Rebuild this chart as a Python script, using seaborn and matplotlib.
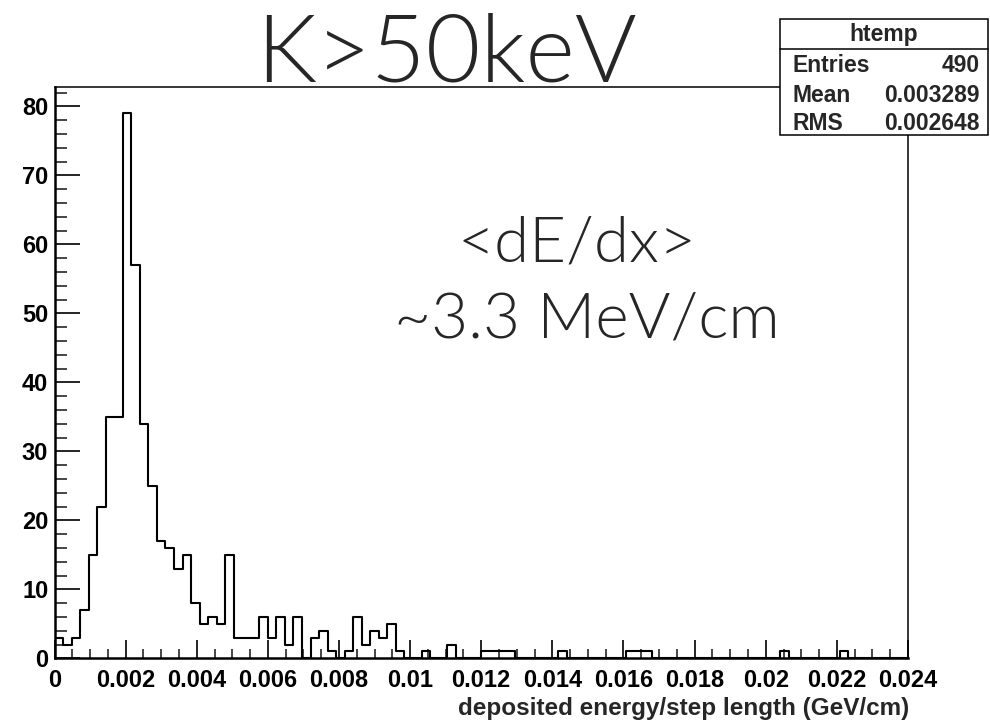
import numpy as np
import pandas as pd
import matplotlib
matplotlib.use("Agg")
import matplotlib.pyplot as plt
import seaborn as sns
from matplotlib.ticker import MultipleLocator, FixedLocator
from matplotlib.patches import Rectangle
from matplotlib.lines import Line2D

# ---------------- data ----------------
bin_lo = 0.0
bin_hi = 0.024
n_bins = 100
counts = [3, 2, 3, 7, 15, 22, 35, 35, 79, 57,
          34, 25, 17, 16, 13, 15, 8, 5, 6, 5,
          15, 3, 3, 3, 6, 3, 6, 2, 6, 0,
          3, 4, 1, 0, 1, 6, 2, 4, 3, 5,
          1, 0, 0, 1, 0, 0, 2, 0, 0, 0,
          1, 1, 1, 1, 0, 0, 0, 0, 0, 1,
          0, 0, 0, 0, 0, 0, 0, 1, 1, 1,
          0, 0, 0, 0, 0, 0, 0, 0, 0, 0,
          0, 0, 0, 0, 0, 1, 0, 0, 0, 0,
          0, 0, 1, 0, 0, 0, 0, 0, 0, 0]
x_tick_values = [0, 0.002, 0.004, 0.006, 0.008, 0.01, 0.012, 0.014,
                 0.016, 0.018, 0.02, 0.022, 0.024]
x_tick_labels = ["0", "0.002", "0.004", "0.006", "0.008", "0.01", "0.012",
                 "0.014", "0.016", "0.018", "0.02", "0.022", "0.024"]
y_tick_values = [0, 10, 20, 30, 40, 50, 60, 70, 80]
title_text = "K>50keV"
note_lines = ["<dE/dx>", "~3.3 MeV/cm"]
xlabel_text = "deposited energy/step length (GeV/cm)"
stats_name = "htemp"
stats_rows = [("Entries", "490"), ("Mean", "0.003289"), ("RMS", "0.002648")]

edges = np.linspace(bin_lo, bin_hi, n_bins + 1)
centers = 0.5 * (edges[:-1] + edges[1:])
df = pd.DataFrame({"x": centers, "w": np.asarray(counts, dtype=float)})

# ---------------- style ----------------
sns.set_theme(style="white")
plt.rcParams["font.family"] = ["Liberation Sans", "DejaVu Sans"]
light_font = ["Lato", "DejaVu Sans"]

fig = plt.figure(figsize=(9.9, 7.2), dpi=100)
ax = fig.add_axes([54.5 / 990, 1 - 658.3 / 720, (908 - 54.5) / 990, (658.3 - 87) / 720])

sns.histplot(data=df, x="x", weights="w", bins=list(edges), element="step",
             fill=False, color="black", linewidth=1.5, ax=ax)

ax.set_xlim(bin_lo, bin_hi)
ax.set_ylim(0, 82.8)
ax.set_xlabel("")
ax.set_ylabel("")

ax.xaxis.set_major_locator(FixedLocator(x_tick_values))
ax.set_xticklabels(x_tick_labels)
ax.xaxis.set_minor_locator(MultipleLocator(0.0005))
ax.yaxis.set_major_locator(FixedLocator(y_tick_values))
ax.yaxis.set_minor_locator(MultipleLocator(2))

ax.tick_params(axis="x", which="major", direction="in", length=13, width=1.2,
               pad=8.0, labelsize=17, colors="black")
ax.tick_params(axis="x", which="minor", direction="in", length=6.5, width=1.2)
ax.tick_params(axis="y", which="major", direction="in", length=18, width=1.2,
               pad=4.5, labelsize=17, colors="black")
ax.tick_params(axis="y", which="minor", direction="in", length=8.6, width=1.2)
ax.tick_params(which="both", top=False, right=False, bottom=True, left=True)
for lab in ax.get_xticklabels() + ax.get_yticklabels():
    lab.set_fontweight("bold")

for side in ["left", "bottom"]:
    ax.spines[side].set_linewidth(1.8)
    ax.spines[side].set_color("black")
for side in ["top", "right"]:
    ax.spines[side].set_linewidth(1.1)
    ax.spines[side].set_color("black")
ax.set_facecolor("white")

# ---------------- texts ----------------
fig.text(446 / 990, 1 - 82 / 720, title_text, ha="center", va="baseline",
         fontsize=68, family=light_font, fontweight=300)
fig.text(577 / 990, 1 - 262 / 720, note_lines[0], ha="center", va="baseline",
         fontsize=46, family=light_font, fontweight=300)
fig.text(587 / 990, 1 - 338 / 720, note_lines[1], ha="center", va="baseline",
         fontsize=46, family=light_font, fontweight=300)
fig.text(909 / 990, 1 - 715 / 720, xlabel_text, ha="right", va="baseline",
         fontsize=17.5, fontweight="bold")

# ---------------- stats box ----------------
bx0, bx1 = 780 / 990, 988 / 990
by0, by1 = 1 - 135 / 720, 1 - 18.7 / 720
fig.patches.append(Rectangle((bx0, by0), bx1 - bx0, by1 - by0, transform=fig.transFigure,
                             facecolor="white", edgecolor="black", linewidth=1.1, zorder=5))
sep_y = 1 - 49 / 720
fig.lines.append(Line2D([bx0, bx1], [sep_y, sep_y], transform=fig.transFigure,
                        color="black", linewidth=1.1, zorder=6))
fig.text((bx0 + bx1) / 2, 1 - 41.5 / 720, stats_name, ha="center", va="baseline",
         fontsize=16.5, fontweight="bold", zorder=7)
row_base = [72.5, 101.7, 130]
for (lab, val), yb in zip(stats_rows, row_base):
    fig.text(792 / 990, 1 - yb / 720, lab, ha="left", va="baseline",
             fontsize=16.5, fontweight="bold", zorder=7)
    fig.text(980 / 990, 1 - yb / 720, val, ha="right", va="baseline",
             fontsize=16.5, fontweight="bold", zorder=7)

fig.savefig("out.png", dpi=100, facecolor="white")
